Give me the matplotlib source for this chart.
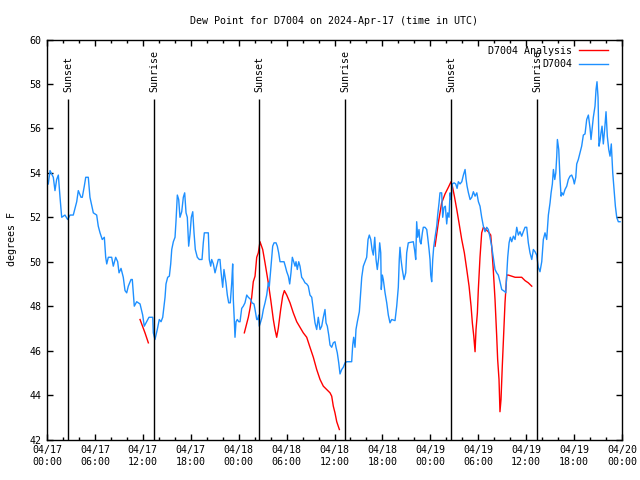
import numpy as np
import matplotlib
matplotlib.use("Agg")
import matplotlib.pyplot as plt

# hours since 04/17 00:00 UTC, dew point in degrees F
obs_hours = [0.16, 0.38, 0.79, 1.0, 1.21, 1.42, 1.63, 1.84, 2.25, 2.59, 2.88, 3.29, 3.72, 3.92, 4.26, 4.42,
             4.67, 4.85, 5.17, 5.38, 5.8, 6.22, 6.42, 6.64, 6.92, 7.18, 7.35, 7.48, 7.68, 8.1, 8.3, 8.6,
             8.85, 9.02, 9.27, 9.55, 9.77, 9.98, 10.18, 10.52, 10.68, 10.93, 11.23, 11.65, 11.98, 12.18,
             12.48, 12.77, 13.24, 13.31, 13.52, 13.81, 14.06, 14.28, 14.49, 14.65, 14.78, 14.9, 15.11,
             15.32, 15.49, 15.62, 15.82, 16.03, 16.15, 16.32, 16.49, 16.65, 16.87, 17.07, 17.24, 17.41,
             17.57, 17.74, 17.91, 18.07, 18.25, 18.41, 18.57, 18.82, 19.07, 19.41, 19.57, 19.7, 20.2,
             20.32, 20.5, 20.62, 20.83, 21.04, 21.25, 21.45, 21.66, 21.79, 22.0, 22.16, 22.41, 22.58,
             22.75, 22.95, 23.13, 23.25, 23.33, 23.45, 23.54, 23.67, 23.83, 24.01, 24.17, 24.38, 24.58,
             24.79, 25.01, 25.21, 25.51, 25.67, 25.92, 26.05, 26.26, 26.38, 26.51, 26.58, 26.76, 26.92,
             27.09, 27.3, 27.51, 27.71, 27.84, 28.01, 28.14, 28.26, 28.43, 28.68, 28.84, 29.01, 29.18,
             29.43, 29.68, 29.84, 30.02, 30.22, 30.39, 30.55, 30.72, 30.89, 31.06, 31.18, 31.34, 31.52,
             31.68, 31.89, 32.09, 32.31, 32.52, 32.72, 32.93, 33.15, 33.35, 33.56, 33.77, 33.97, 34.19,
             34.4, 34.6, 34.81, 34.94, 35.1, 35.28, 35.44, 35.65, 35.85, 36.06, 36.19, 36.35, 36.53,
             36.69, 36.9, 37.1, 37.32, 37.53, 38.15, 38.28, 38.4, 38.57, 38.69, 38.86, 39.11, 39.28,
             39.41, 39.61, 39.82, 40.03, 40.2, 40.36, 40.54, 40.7, 40.86, 41.04, 41.2, 41.36, 41.54,
             41.66, 41.79, 41.86, 41.99, 42.11, 42.33, 42.54, 42.74, 42.95, 43.16, 43.58, 43.79, 43.99,
             44.11, 44.2, 44.33, 44.49, 44.7, 44.92, 45.04, 45.24, 45.87, 46.04, 46.17, 46.29, 46.42,
             46.58, 46.71, 46.83, 47.0, 47.12, 47.33, 47.55, 47.67, 47.84, 47.96, 48.05, 48.17, 48.3,
             48.42, 48.59, 48.8, 48.92, 49.09, 49.21, 49.42, 49.55, 49.71, 49.88, 50.05, 50.18, 50.34,
             50.47, 50.59, 50.76, 50.97, 51.18, 51.35, 51.51, 51.72, 51.94, 52.14, 52.35, 52.48, 52.6,
             52.77, 52.98, 53.19, 53.39, 53.6, 53.82, 54.02, 54.22, 54.43, 54.64, 54.85, 55.06, 55.26,
             55.47, 55.68, 55.88, 56.1, 56.31, 56.51, 56.72, 56.94, 57.14, 57.35, 57.44, 57.57, 57.69,
             57.86, 58.02, 58.19, 58.4, 58.61, 58.82, 59.02, 59.23, 59.44, 59.64, 59.86, 60.07, 60.27,
             60.48, 60.7, 60.9, 61.11, 61.32, 61.52, 61.73, 61.95, 62.15, 62.36, 62.57, 62.78, 62.99,
             63.12, 63.28, 63.41, 63.58, 63.71, 63.83, 63.91, 64.08, 64.24, 64.37, 64.49, 64.65, 64.86,
             65.08, 65.28, 65.49, 65.7, 65.91, 66.03, 66.21, 66.33, 66.53, 66.74, 66.95, 67.16, 67.37,
             67.58, 67.79, 68.0, 68.12, 68.25, 68.41, 68.62, 68.75, 68.87, 69.0, 69.12, 69.25, 69.37,
             69.5, 69.66, 69.84, 70.0, 70.16, 70.34, 70.5, 70.66, 70.84, 71.0, 71.17, 71.34, 71.54, 71.76]
obs_dewpt = [53.5, 54.1, 53.8, 53.2, 53.7, 53.9, 52.9, 52.0, 52.1, 51.9, 52.1, 52.1, 52.7, 53.2, 52.9, 52.9,
             53.4, 53.8, 53.8, 52.9, 52.2, 52.1, 51.6, 51.3, 51.0, 51.1, 50.2, 49.9, 50.2, 50.2, 49.8, 50.2,
             50.0, 49.5, 49.7, 49.3, 48.7, 48.6, 48.9, 49.2, 49.2, 48.0, 48.2, 48.1, 47.6, 47.1,
             47.3, 47.5, 47.5, 46.8, 46.5, 46.95, 47.4, 47.3, 47.5, 48.0, 48.4, 49.0, 49.3,
             49.35, 49.9, 50.55, 50.9, 51.1, 51.8, 53.0, 52.8, 52.0, 52.25, 52.9, 53.1, 52.2,
             52.0, 50.7, 51.25, 52.0, 52.25, 51.3, 50.55, 50.2, 50.1, 50.1, 50.85, 51.3, 51.3,
             50.1, 49.8, 50.1, 49.9, 49.5, 49.8, 50.1, 50.1, 49.55, 48.85, 49.65, 49.05, 48.5,
             48.15, 48.15, 49.05, 49.9, 48.3, 47.4, 46.6, 47.3, 47.4, 47.3, 47.3, 47.9, 48.0,
             48.15, 48.5, 48.4, 48.3, 48.15, 48.1, 47.85, 47.4, 47.4, 47.6, 47.1, 47.3, 47.5,
             47.85, 48.15, 48.5, 49.05, 48.9, 49.65, 50.2, 50.7, 50.85, 50.85, 50.7, 50.4, 50.0,
             50.0, 50.0, 49.8, 49.55, 49.35, 49.0, 49.5, 50.2, 50.0, 49.8, 50.0, 49.65, 50.0,
             49.8, 49.3, 49.2, 49.05, 49.0, 48.9, 48.5, 48.4, 47.85, 47.25, 46.95, 47.5, 46.95,
             47.1, 47.5, 47.85, 47.25, 47.1, 46.7, 46.25, 46.15, 46.35, 46.4, 46.15, 45.9, 45.45,
             44.95, 45.15, 45.25, 45.45, 45.5, 45.5, 46.25, 46.6, 46.15, 46.95, 47.3, 47.75, 48.65,
             49.3, 49.8, 50.0, 50.2, 51.0, 51.2, 51.0, 50.55, 50.3, 51.1, 50.1, 49.65, 50.2,
             50.85, 50.4, 48.75, 49.4, 49.2, 48.6, 48.15, 47.6, 47.25, 47.4, 47.35, 48.0, 48.85,
             50.1, 50.65, 50.1, 49.65, 49.2, 49.5, 50.4, 50.85, 50.9, 50.5, 50.1, 51.8, 51.1,
             51.45, 50.9, 50.8, 51.3, 51.55, 51.55, 51.45, 51.1, 50.55, 50.1, 49.4, 49.1, 50.1,
             50.65, 51.1, 51.6, 52.1, 52.65, 53.1, 53.1, 52.0, 52.45, 52.5, 51.7, 52.2, 52.0,
             53.1, 52.8, 53.5, 53.55, 53.5, 53.3, 53.6, 53.5, 53.6, 53.9, 54.15, 53.7, 53.4,
             53.1, 52.8, 52.9, 53.15, 52.95, 53.1, 52.7, 52.5, 52.0, 51.6, 51.35, 51.55, 51.45,
             51.1, 50.7, 50.2, 49.65, 49.5, 49.4, 49.1, 48.75, 48.7, 48.65, 48.6, 49.4, 50.2,
             50.85, 51.1, 50.9, 51.15, 51.0, 51.55, 51.2, 51.35, 51.15, 51.35, 51.55, 51.55, 50.85,
             50.4, 50.1, 50.55, 50.45, 50.3, 49.75, 49.55, 50.0, 51.0, 51.3, 51.0, 52.1, 52.65,
             53.1, 53.5, 54.15, 53.7, 54.0, 54.75, 55.5, 55.05, 53.7, 52.95, 53.1, 53.0, 53.25,
             53.4, 53.7, 53.85, 53.9, 53.7, 53.5, 53.8, 54.4, 54.6, 54.9, 55.2, 55.7, 55.75,
             56.4, 56.6, 56.0, 55.5, 55.95, 56.5, 57.0, 57.75, 58.1, 57.4, 55.2, 55.45, 55.8,
             56.1, 55.3, 56.0, 56.75, 55.65, 55.05, 54.75, 55.3, 54.0, 53.25, 52.5, 52.0, 51.8, 51.8]

# analysis runs (nan separates the three runs)
ana_hours = [11.65, 12.27, 12.69, np.nan,
             24.71, 25.21, 25.42, 25.63, 25.83, 26.05, 26.26, 26.46, 26.67, 27.01, 27.3, 27.71, 28.01,
             28.34, 28.55, 28.76, 28.96, 29.26, 29.51, 29.72, 30.02, 30.43, 30.84, 31.27, 31.68, 32.09,
             32.52, 32.93, 33.35, 33.77, 34.19, 34.6, 35.02, 35.44, 35.65, 35.85, 36.06, 36.28, 36.61, np.nan,
             48.59, 49.0, 49.42, 49.84, 50.26, 50.59, 50.76, 51.01, 51.31, 51.59, 51.93, 52.26, 52.56,
             52.85, 53.1, 53.26, 53.44, 53.6, 53.72, 53.89, 54.01, 54.22, 54.43, 54.64, 54.94, 55.26,
             55.56, 55.68, 55.88, 56.1, 56.31, 56.43, 56.6, 56.72, 56.85, 57.01, 57.19, 57.35, 57.57,
             57.76, 58.19, 58.61, 59.44, 59.86, 60.27, 60.7]
ana_dewpt = [47.4, 46.8, 46.35, np.nan,
             46.8, 47.5, 47.9, 48.4, 49.1, 49.35, 50.2, 50.4, 50.9, 50.55, 49.95, 49.05, 48.3,
             47.4, 46.95, 46.6, 47.0, 47.85, 48.45, 48.7, 48.5, 48.15, 47.7, 47.3, 47.05, 46.8,
             46.6, 46.15, 45.7, 45.15, 44.7, 44.4, 44.25, 44.1, 43.95, 43.5, 43.2, 42.8, 42.45, np.nan,
             50.7, 51.75, 52.65, 53.05, 53.35, 53.6, 53.4, 52.95, 52.35, 51.75, 51.0, 50.4, 49.65,
             48.9, 48.0, 47.25, 46.65, 45.95, 46.95, 47.7, 48.75, 50.2, 51.3, 51.55, 51.45, 51.35,
             51.2, 50.7, 49.65, 48.3, 46.65, 45.6, 44.7, 43.25, 43.8, 45.3, 46.8, 48.15, 49.4,
             49.4, 49.35, 49.3, 49.3, 49.15, 49.05, 48.9]

sun_hours = [2.67, 13.44, 26.59, 37.35, 50.63, 61.4]
sun_labels = ['Sunset', 'Sunrise', 'Sunset', 'Sunrise', 'Sunset', 'Sunrise']

tick_hours = list(range(0, 73, 6))
tick_labels = ['04/17\n00:00', '04/17\n06:00', '04/17\n12:00', '04/17\n18:00',
               '04/18\n00:00', '04/18\n06:00', '04/18\n12:00', '04/18\n18:00',
               '04/19\n00:00', '04/19\n06:00', '04/19\n12:00', '04/19\n18:00',
               '04/20\n00:00']

plt.rcParams['font.family'] = 'DejaVu Sans Mono'
plt.rcParams['font.size'] = 7.2

fig = plt.figure(figsize=(6.4, 4.8), dpi=100)
ax = fig.add_axes([47 / 640, 1 - 439.5 / 480, 575 / 640, 400 / 480])

ax.plot(ana_hours, ana_dewpt, color='#ff0000', lw=1, label='D7004 Analysis')
ax.plot(obs_hours, obs_dewpt, color='#1e90ff', lw=1, label='D7004')

ax.vlines(sun_hours, 42, 57.32, color='black', lw=1)
for h, lab in zip(sun_hours, sun_labels):
    ax.text(h, 57.62, lab, rotation=90, ha='center', va='bottom')

ax.set_xlim(0, 72)
ax.set_ylim(42, 60)
ax.set_xticks(tick_hours)
ax.set_xticklabels(tick_labels)
ax.set_xticks(range(0, 73, 2), minor=True)
ax.set_yticks(range(42, 61, 2))
ax.tick_params(which='both', direction='in', top=True, right=True, width=1, pad=4)
ax.tick_params(which='major', length=4)
ax.tick_params(which='minor', length=2.2)
for s in ax.spines.values():
    s.set_linewidth(1)

ax.set_ylabel('degrees F', labelpad=9)
ax.set_title('Dew Point for D7004 on 2024-Apr-17 (time in UTC)', fontsize=7.2, pad=11)

ax.legend(loc='upper right', bbox_to_anchor=(0.99, 1.005), frameon=False, markerfirst=False,
          handlelength=2.9, handletextpad=0.7, labelspacing=0.35, borderpad=0.3)

fig.savefig('out.png', dpi=100)
